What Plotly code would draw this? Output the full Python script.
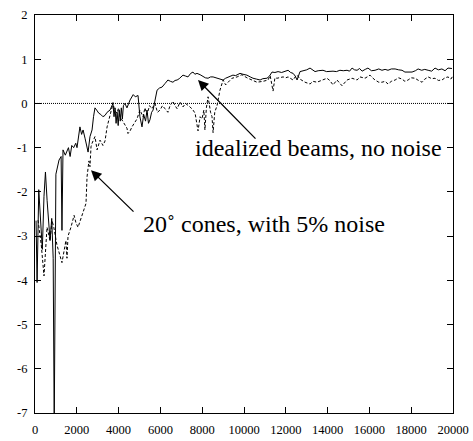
import plotly.graph_objects as go

solid_x = [50, 100, 180, 260, 350, 430, 500, 580, 650, 720, 800, 870, 920, 1000, 1150, 1250, 1290, 1340, 1450,
           1600, 1680, 1760, 1850, 1950, 2010, 2150, 2230, 2300, 2400, 2490, 2540, 2630, 2730, 2800, 2870,
           2950, 3050, 3150, 3250, 3350, 3450, 3590, 3680, 3730, 3780, 3830, 3880, 3930, 3980, 4030, 4080,
           4130, 4180, 4230, 4300, 4400, 4550, 4700, 4800, 4930, 5020, 5120, 5200, 5290, 5360, 5430, 5500,
           5580, 5650, 5740, 5840, 5960, 6080, 6220, 6360, 6480, 6600, 6700, 6800, 6900, 7000, 7080, 7200,
           7320, 7450, 7560, 7650, 7750, 7900, 8040, 8150, 8280, 8400, 8520, 8640, 8760, 8880, 9000, 9120,
           9240, 9350, 9470, 9600, 9810, 9950, 10140, 10300, 10430, 10600, 10770, 10900, 11100, 11220, 11340,
           11480, 11630, 11800, 11960, 12110, 12230, 12350, 12450, 12540, 12680, 12850, 13000, 13160, 13280,
           13400, 13550, 13780, 13950, 14100, 14260, 14420, 14590, 14750, 14930, 15050, 15170, 15290, 15410,
           15530, 15650, 15800, 15930, 16100, 16270, 16450, 16600, 16750, 16890, 17050, 17230, 17400, 17560,
           17700, 17870, 18040, 18200, 18330, 18500, 18650, 18810, 18980, 19140, 19300, 19470, 19620, 19760,
           19950]
solid_y = [-2.65, -4.05, -1.95, -2.7, -3.3, -2.1, -1.55, -2.2, -2.8, -3.1, -2.6, -3.5, -7.3, -1.6, -1.28, -1.2,
           -2.87, -1.05, -1.17, -1.0, -1.2, -0.95, -1.0, -0.9, -1.0, -0.53, -0.7, -0.6, -0.8, -1.0, -1.1, -0.75,
           -0.6, -0.3, -0.1, -0.15, -0.22, -0.25, -0.3, -0.27, -0.2, -0.15, -0.05, 0.0, -0.3, -0.1, -0.45,
           -0.2, -0.5, -0.15, -0.4, -0.1, -0.35, -0.05, 0.0, -0.1, 0.08, 0.2, 0.15, 0.18, -0.3, -0.53, -0.25,
           -0.4, -0.15, -0.45, -0.37, -0.2, -0.15, 0.1, 0.3, 0.35, 0.37, 0.45, 0.53, 0.5, 0.48, 0.52, 0.53,
           0.56, 0.6, 0.64, 0.62, 0.6, 0.68, 0.71, 0.66, 0.68, 0.65, 0.6, 0.58, 0.57, 0.6, 0.6, 0.58, 0.57,
           0.55, 0.53, 0.57, 0.6, 0.62, 0.64, 0.63, 0.68, 0.66, 0.64, 0.6, 0.57, 0.55, 0.53, 0.56, 0.57, 0.62,
           0.71, 0.7, 0.72, 0.7, 0.72, 0.75, 0.7, 0.68, 0.62, 0.53, 0.72, 0.74, 0.76, 0.8, 0.76, 0.72, 0.74,
           0.75, 0.72, 0.73, 0.73, 0.72, 0.75, 0.74, 0.75, 0.73, 0.8, 0.76, 0.75, 0.79, 0.73, 0.77, 0.8, 0.74,
           0.75, 0.78, 0.75, 0.77, 0.75, 0.78, 0.78, 0.76, 0.75, 0.71, 0.71, 0.71, 0.74, 0.78, 0.75, 0.77,
           0.75, 0.73, 0.8, 0.76, 0.78, 0.74, 0.8, 0.79]

dashed_x = [145, 300, 430, 575, 720, 815, 900, 1050, 1200, 1290, 1480, 1530, 1580, 1720, 1870, 1960, 2060, 2200,
            2340, 2440, 2490, 2580, 2630, 2680, 2730, 2820, 2870, 2970, 3110, 3250, 3350, 3450, 3590, 3680,
            3730, 3800, 3920, 4000, 4070, 4210, 4400, 4450, 4550, 4640, 4750, 4880, 5020, 5170, 5260, 5360,
            5480, 5600, 5740, 5860, 5980, 6100, 6220, 6360, 6460, 6600, 6700, 6800, 6940, 7080, 7200, 7270,
            7420, 7560, 7660, 7740, 7800, 7900, 7990, 8080, 8130, 8200, 8280, 8400, 8470, 8520, 8600, 8710,
            8850, 9000, 9120, 9240, 9430, 9670, 9900, 10140, 10380, 10620, 10910, 11050, 11150, 11250, 11390,
            11480, 11580, 11870, 12000, 12110, 12350, 12450, 12540, 12680, 12920, 13160, 13300, 13490, 13730,
            13970, 14100, 14260, 14450, 14600, 14690, 14930, 15170, 15410, 15550, 15790, 16030, 16150, 16270,
            16450, 16600, 16750, 16890, 17050, 17230, 17400, 17560, 17700, 17850, 18000, 18180, 18350, 18520,
            18650, 18810, 18980, 19140, 19300, 19470, 19620, 19760, 19900, 20000]
dashed_y = [-2.64, -3.2, -3.9, -2.8, -3.1, -2.65, -2.8, -3.2, -3.45, -3.6, -3.1, -3.5, -3.0, -2.8, -2.53, -2.7,
            -2.8, -2.6, -2.4, -2.26, -1.66, -1.3, -1.43, -0.98, -0.9, -0.8, -0.75, -1.05, -0.83, -0.95, -0.85,
            -0.53, -0.3, -0.1, 0.02, -0.15, -0.22, -0.1, -0.3, -0.4, -0.56, -0.68, -0.62, -0.53, -0.45, -0.35,
            -0.15, -0.3, -0.1, -0.25, -0.05, -0.12, 0.0, -0.2, -0.15, -0.05, -0.12, -0.2, -0.05, 0.05, -0.05,
            -0.12, 0.03, -0.08, 0.0, -0.02, -0.08, -0.15, -0.22, -0.45, -0.62, -0.3, -0.35, -0.15, -0.6, -0.1,
            0.15, -0.2, -0.3, -0.66, -0.2, -0.05, 0.3, 0.53, 0.42, 0.48, 0.57, 0.6, 0.65, 0.58, 0.53, 0.48,
            0.5, 0.52, 0.53, 0.63, 0.28, 0.58, 0.57, 0.6, 0.58, 0.6, 0.53, 0.6, 0.64, 0.55, 0.48, 0.44, 0.5,
            0.48, 0.53, 0.57, 0.52, 0.42, 0.53, 0.45, 0.4, 0.53, 0.57, 0.53, 0.6, 0.57, 0.64, 0.58, 0.53, 0.48,
            0.48, 0.5, 0.44, 0.5, 0.53, 0.58, 0.55, 0.5, 0.53, 0.58, 0.57, 0.52, 0.48, 0.55, 0.6, 0.56, 0.57,
            0.52, 0.53, 0.58, 0.6, 0.55, 0.63]

x_ticks = [0, 2000, 4000, 6000, 8000, 10000, 12000, 14000, 16000, 18000, 20000]
y_ticks = [-7, -6, -5, -4, -3, -2, -1, 0, 1, 2]

label_solid = "idealized beams, no noise"
label_dashed = "20\u02da cones, with 5% noise"

FONT = "Liberation Serif"

fig = go.Figure()
fig.add_trace(go.Scatter(x=[0, 20000], y=[0, 0], mode="lines",
                         line=dict(color="black", width=1, dash="1px,1px"), hoverinfo="skip"))
fig.add_trace(go.Scatter(x=dashed_x, y=dashed_y, mode="lines",
                         line=dict(color="black", width=1, dash="3px,2px")))
fig.add_trace(go.Scatter(x=solid_x, y=solid_y, mode="lines",
                         line=dict(color="black", width=1)))

fig.add_annotation(x=7800, y=0.53, ax=10620, ay=-0.83, xref="x", yref="y", axref="x", ayref="y",
                   showarrow=True, arrowhead=2, arrowsize=1.6, arrowwidth=1.3, arrowcolor="black", text="")
fig.add_annotation(x=2680, y=-1.51, ax=4785, ay=-2.48, xref="x", yref="y", axref="x", ayref="y",
                   showarrow=True, arrowhead=2, arrowsize=1.6, arrowwidth=1.3, arrowcolor="black", text="")
fig.add_annotation(x=13550, y=-1.0, xref="x", yref="y", text=label_solid, showarrow=False,
                   font=dict(family=FONT, size=24, color="black"))
fig.add_annotation(x=10950, y=-2.72, xref="x", yref="y", text=label_dashed, showarrow=False,
                   font=dict(family=FONT, size=24, color="black"))

axis_common = dict(showgrid=False, zeroline=False, showline=True, linecolor="black", linewidth=1,
                   mirror="ticks", ticks="inside", ticklen=6, tickcolor="black", tickwidth=1,
                   automargin=False,
                   tickfont=dict(family=FONT, size=12.5, color="black"))
fig.update_xaxes(range=[0, 20000], tickvals=x_ticks, ticktext=[str(v) for v in x_ticks],
                 ticklabelstandoff=5, **axis_common)
fig.update_yaxes(range=[-7, 2], tickvals=y_ticks, ticktext=[str(v) for v in y_ticks],
                 ticklabelstandoff=4, **axis_common)

fig.update_layout(width=473, height=441, margin=dict(l=35, r=20, t=15, b=28, autoexpand=False),
                  plot_bgcolor="white", paper_bgcolor="white", showlegend=False,
                  font=dict(family=FONT, color="black"))

fig.write_html("out.html", config={"displayModeBar": False},
               post_script="document.body.style.margin='0';")
